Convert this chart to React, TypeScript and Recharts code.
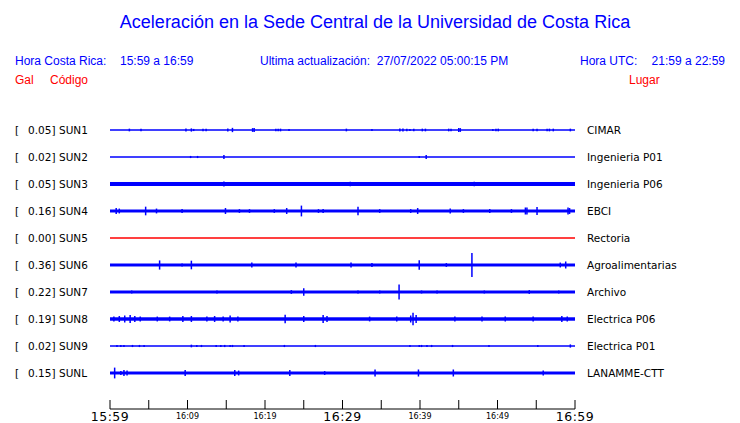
import React from 'react';
import { ComposedChart, Area, Scatter, ErrorBar, XAxis, YAxis } from 'recharts';

const stations = ['SUN1', 'SUN2', 'SUN3', 'SUN4', 'SUN5', 'SUN6', 'SUN7', 'SUN8', 'SUN9', 'SUNL'];
const maxGal = ['0.05', '0.02', '0.05', '0.16', '0.00', '0.36', '0.22', '0.19', '0.02', '0.15'];
const places = [
  'CIMAR', 'Ingenieria P01', 'Ingenieria P06', 'EBCI', 'Rectoria',
  'Agroalimentarias', 'Archivo', 'Electrica P06', 'Electrica P01', 'LANAMME-CTT',
];
// trace baseline level (one unit = spacing between traces)
const rowLevel = [10, 9, 8, 7, 6, 5, 4, 3, 2, 1];
// background noise half-amplitude of each trace, in trace units
const noise = [0, 0, 0.056, 0.037, 0, 0.037, 0.037, 0.042, 0, 0.037];

// [minute after 15:59, half-amplitude] of the visible bursts
const sun1: [number, number][] = [
  [2.5, 0.05], [4.0, 0.05], [9.8, 0.06], [10.5, 0.06], [10.8, 0.04], [12.0, 0.05], [12.4, 0.05],
  [15.2, 0.06], [15.8, 0.08], [18.4, 0.07], [18.6, 0.07], [21.4, 0.05], [21.7, 0.05], [22.0, 0.05],
  [23.1, 0.04], [30.5, 0.05], [33.8, 0.04], [37.4, 0.06], [37.8, 0.06], [38.3, 0.05], [38.7, 0.04],
  [39.2, 0.05], [40.3, 0.05], [40.7, 0.05], [43.7, 0.05], [44.0, 0.05], [45.0, 0.07], [45.2, 0.07],
  [49.4, 0.04], [49.8, 0.05], [50.1, 0.05], [54.6, 0.05], [55.1, 0.05], [56.4, 0.05], [56.7, 0.05],
  [57.2, 0.05], [59.4, 0.05],
];
const sun2: [number, number][] = [[10.4, 0.04], [11.3, 0.04], [14.7, 0.07], [39.9, 0.04], [40.8, 0.07]];
const sun3: [number, number][] = [[14.7, 0.09], [31.0, 0.08], [47.0, 0.08]];
const sun4: [number, number][] = [
  [0.8, 0.11], [1.2, 0.09], [4.6, 0.16], [6.0, 0.09], [9.3, 0.07], [14.9, 0.11], [16.7, 0.07],
  [18.0, 0.07], [21.2, 0.07], [22.8, 0.11], [24.7, 0.2], [26.9, 0.07], [27.5, 0.07], [32.0, 0.16],
  [34.8, 0.07], [38.8, 0.07], [39.7, 0.11], [43.9, 0.09], [45.6, 0.07], [49.0, 0.07], [51.8, 0.07],
  [53.6, 0.13], [53.8, 0.13], [55.1, 0.15], [59.1, 0.13], [59.3, 0.11],
];
const sun5: [number, number][] = [];
const sun6: [number, number][] = [
  [6.4, 0.17], [9.3, 0.055], [10.5, 0.16], [18.3, 0.09], [24.0, 0.09], [31.1, 0.09], [33.8, 0.07],
  [39.9, 0.18], [43.4, 0.07], [46.7, 0.44], [58.1, 0.09], [58.8, 0.13],
];
const sun7: [number, number][] = [
  [2.8, 0.055], [13.8, 0.055], [23.4, 0.07], [25.0, 0.14], [32.0, 0.055], [34.8, 0.055],
  [37.3, 0.28], [40.2, 0.055], [42.2, 0.055], [48.3, 0.055], [54.1, 0.07], [57.9, 0.055],
];
const sun8: [number, number][] = [
  [0.5, 0.09], [1.2, 0.11], [1.9, 0.13], [2.6, 0.15], [3.2, 0.11], [3.9, 0.09], [6.1, 0.09],
  [7.7, 0.09], [9.4, 0.11], [10.5, 0.11], [12.5, 0.09], [13.5, 0.11], [14.6, 0.09], [15.5, 0.13],
  [16.5, 0.09], [22.6, 0.16], [25.0, 0.11], [27.5, 0.15], [28.0, 0.11], [33.5, 0.09], [37.0, 0.09],
  [38.8, 0.13], [39.1, 0.23], [39.5, 0.15], [44.5, 0.09], [48.0, 0.09], [51.0, 0.09], [54.6, 0.09],
  [58.3, 0.11], [59.0, 0.09],
];
const sun9: [number, number][] = [
  [0.9, 0.04], [1.4, 0.04], [1.8, 0.04], [2.9, 0.04], [3.8, 0.04], [4.4, 0.04], [10.5, 0.05],
  [11.2, 0.04], [11.8, 0.04], [13.7, 0.04], [14.3, 0.04], [14.8, 0.04], [15.5, 0.04], [15.8, 0.04],
  [17.3, 0.04], [22.5, 0.04], [26.5, 0.04], [38.7, 0.04], [39.9, 0.04], [40.2, 0.04], [40.9, 0.04],
  [41.5, 0.04], [44.2, 0.04], [48.9, 0.04], [55.2, 0.04], [59.4, 0.06],
];
const sunl: [number, number][] = [
  [0.6, 0.2], [1.4, 0.07], [1.8, 0.11], [2.2, 0.09], [9.7, 0.11], [16.1, 0.11], [16.6, 0.09],
  [23.2, 0.11], [27.7, 0.07], [34.2, 0.13], [39.8, 0.13], [44.3, 0.13], [55.9, 0.09],
];
const events = [sun1, sun2, sun3, sun4, sun5, sun6, sun7, sun8, sun9, sunl];

const xTicks = [0, 5, 10, 15, 20, 25, 30, 35, 40, 45, 50, 55, 60];
const xLabels: Record<number, string> = {
  0: '15:59', 10: '16:09', 20: '16:19', 30: '16:29', 40: '16:39', 50: '16:49', 60: '16:59',
};
const bigLabels = [0, 30, 60];

const BLUE = '#0000ff';
const RED = '#ff0000';
const traceColor = (i: number) => (stations[i] === 'SUN5' ? RED : BLUE);
const MONO = '"DejaVu Sans", sans-serif';
const SANS = '"Liberation Sans", Arial, sans-serif';

const bandData = [0, 60].map((t) => {
  const row: any = { t };
  stations.forEach((s, i) => {
    row[s] = [rowLevel[i] - noise[i], rowLevel[i] + noise[i]];
  });
  return row;
});

const EmptyDot = () => <g />;

const LeftTick = ({ y, payload }: any) => {
  const i = rowLevel.indexOf(payload.value);
  if (i < 0) return <g />;
  return (
    <g fontFamily={MONO} fontSize={10.5} fill="#000">
      <text x={15} y={y} dy="0.35em">[</text>
      <text x={55.5} y={y} dy="0.35em" textAnchor="end">{maxGal[i]}]</text>
      <text x={59} y={y} dy="0.35em">{stations[i]}</text>
    </g>
  );
};

const RightTick = ({ x, y, payload }: any) => {
  const i = rowLevel.indexOf(payload.value);
  if (i < 0) return <g />;
  return (
    <text x={x} y={y} dy="0.35em" fontFamily={MONO} fontSize={10.5} fill="#000">
      {places[i]}
    </text>
  );
};

const TimeTick = ({ x, y, payload }: any) => {
  const v = payload.value;
  const label = xLabels[v];
  const big = bigLabels.includes(v);
  return (
    <g>
      <line x1={x} x2={x} y1={y - 9} y2={y} stroke="#000" strokeWidth={1} />
      {label && (
        <text
          x={x}
          y={big ? y + 8 : y + 7}
          dy="0.35em"
          textAnchor="middle"
          fontFamily={MONO}
          fontSize={big ? 12.5 : 8}
          letterSpacing={big ? 0.5 : 0}
          fill="#000"
        >
          {label}
        </text>
      )}
    </g>
  );
};

const Txt = ({ x, y, color, size, anchor, children }: any) => (
  <div
    style={{
      position: 'absolute',
      left: x,
      top: y,
      transform: `translate(${anchor === 'middle' ? '-50%' : anchor === 'end' ? '-100%' : '0'}, -50%)`,
      color,
      fontSize: size,
      fontFamily: SANS,
      lineHeight: 1,
      whiteSpace: 'pre',
    }}
  >
    {children}
  </div>
);

export default function App() {
  return (
    <div style={{ position: 'absolute', left: 0, top: 0, width: 740, height: 423, background: '#fff' }}>
      <Txt x={375} y={22} color={BLUE} size={18} anchor="middle">
        Aceleración en la Sede Central de la Universidad de Costa Rica
      </Txt>
      <Txt x={15} y={61} color={BLUE} size={12}>Hora Costa Rica:</Txt>
      <Txt x={120} y={61} color={BLUE} size={12}>15:59 a 16:59</Txt>
      <Txt x={260} y={61} color={BLUE} size={12}>Ultima actualización:  27/07/2022 05:00:15 PM</Txt>
      <Txt x={580} y={61} color={BLUE} size={12}>Hora UTC:</Txt>
      <Txt x={725} y={61} color={BLUE} size={12} anchor="end">21:59 a 22:59</Txt>
      <Txt x={15} y={80} color={RED} size={12}>Gal</Txt>
      <Txt x={50} y={80} color={RED} size={12}>Código</Txt>
      <Txt x={629} y={80} color={RED} size={12}>Lugar</Txt>

      <ComposedChart
        width={740}
        height={423}
        data={bandData}
        margin={{ top: 103, right: 0, bottom: 0, left: 0 }}
        style={{ position: 'absolute', left: 0, top: 0 }}
      >
        <XAxis
          dataKey="t"
          type="number"
          domain={[0, 60]}
          ticks={xTicks}
          interval={0}
          tickSize={0}
          tickMargin={0}
          height={14}
          axisLine={{ stroke: '#000', strokeWidth: 1 }}
          tickLine={false}
          tick={<TimeTick />}
          allowDataOverflow
        />
        <YAxis
          yAxisId="left"
          type="number"
          domain={[-1 / 3, 11]}
          ticks={rowLevel}
          interval={0}
          width={110}
          axisLine={false}
          tickLine={false}
          tickSize={0}
          tick={<LeftTick />}
          allowDataOverflow
        />
        <YAxis
          yAxisId="right"
          orientation="right"
          type="number"
          domain={[-1 / 3, 11]}
          ticks={rowLevel}
          interval={0}
          width={165}
          axisLine={false}
          tickLine={false}
          tickSize={0}
          tickMargin={12}
          tick={<RightTick />}
          allowDataOverflow
        />
        {stations.map((s, i) => (
          <Area
            key={`band-${s}`}
            yAxisId="left"
            dataKey={s}
            type="linear"
            stroke={traceColor(i)}
            strokeWidth={1}
            fill={traceColor(i)}
            fillOpacity={1}
            dot={false}
            activeDot={false}
            isAnimationActive={false}
          />
        ))}
        {stations.map((s, i) => (
          <Scatter
            key={`ev-${s}`}
            yAxisId="left"
            data={events[i].map(([t, a]) => ({ t, y: rowLevel[i], e: a }))}
            dataKey="y"
            shape={EmptyDot}
            isAnimationActive={false}
          >
            <ErrorBar
              dataKey="e"
              direction="y"
              width={0}
              stroke={traceColor(i)}
              strokeWidth={1.5}
              isAnimationActive={false}
            />
          </Scatter>
        ))}
      </ComposedChart>
    </div>
  );
}
